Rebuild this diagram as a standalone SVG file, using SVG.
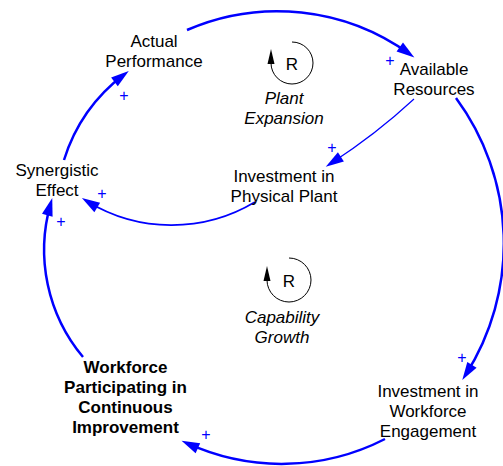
<svg xmlns="http://www.w3.org/2000/svg" width="503" height="466" viewBox="0 0 503 466">
  <style>
    .node { font-family: "Liberation Sans", Arial, sans-serif; font-size: 17px; fill: #000; text-anchor: middle; }
    .bold { font-weight: bold; }
    .loop { font-family: "Liberation Sans", Arial, sans-serif; font-size: 17px; font-style: italic; fill: #000; text-anchor: middle; }
    .sym { font-family: "Liberation Sans", Arial, sans-serif; font-size: 17px; fill: #000; text-anchor: middle; }
    .pol { font-family: "Liberation Sans", Arial, sans-serif; font-size: 16px; fill: #0000ff; text-anchor: middle; }
    .link { fill: none; stroke: #0000ff; stroke-width: 2.5; marker-end: url(#head); }
    .thin { stroke-width: 1.2; }
    .mid { stroke-width: 1.6; }
    .loopArc { fill: none; stroke: #000; stroke-width: 1; marker-end: url(#loopHead); }
  </style>
  <defs>
    <marker id="head" markerUnits="userSpaceOnUse" markerWidth="30" markerHeight="30" refX="0" refY="0" viewBox="-15 -15 30 30" orient="auto" overflow="visible">
      <path d="M6,0 L-12,-5.5 L-12,5.5 Z" fill="#0000ff"/>
    </marker>
    <marker id="loopHead" markerUnits="userSpaceOnUse" markerWidth="20" markerHeight="20" refX="0" refY="0" viewBox="-10 -10 20 20" orient="auto" overflow="visible">
      <path d="M14,0 L-1,-3.5 L-1,3.5 Z" fill="#000"/>
    </marker>
  </defs>

  <!-- causal links -->
  <g id="links">
    <path class="link" d="M187,30 A226,226 0 0 1 409.5,54"/>
    <path class="link" d="M456,98 A245,245 0 0 1 465.5,375"/>
    <path class="link" d="M385,439 A227,227 0 0 1 187,443.2"/>
    <path class="link" d="M83,357 A167,167 0 0 1 50.6,203.8"/>
    <path class="link" d="M64,160 A172,172 0 0 1 124,74.6"/>
    <path class="link thin" d="M414,99 A600,600 0 0 1 330.8,163.4"/>
    <path class="link mid" d="M255,202 A162,162 0 0 1 87,201.2"/>
  </g>

  <!-- link polarities -->
  <g id="polarities">
    <text class="pol" x="390" y="66">+</text>
    <text class="pol" x="124" y="101">+</text>
    <text class="pol" x="61" y="227">+</text>
    <text class="pol" x="102" y="199">+</text>
    <text class="pol" x="332" y="153">+</text>
    <text class="pol" x="462" y="363">+</text>
    <text class="pol" x="206" y="440">+</text>
  </g>

  <!-- variables -->
  <g id="actual-performance">
    <text class="node" x="154" y="47">Actual</text>
    <text class="node" x="154" y="67">Performance</text>
  </g>
  <g id="available-resources">
    <text class="node" x="434" y="75">Available</text>
    <text class="node" x="434" y="95">Resources</text>
  </g>
  <g id="investment-physical-plant">
    <text class="node" x="284" y="182">Investment in</text>
    <text class="node" x="284" y="202">Physical Plant</text>
  </g>
  <g id="synergistic-effect">
    <text class="node" x="57" y="176">Synergistic</text>
    <text class="node" x="57" y="196">Effect</text>
  </g>
  <g id="investment-workforce-engagement">
    <text class="node" x="428" y="397">Investment in</text>
    <text class="node" x="428" y="417">Workforce</text>
    <text class="node" x="428" y="437">Engagement</text>
  </g>
  <g id="workforce-participating">
    <text class="node bold" x="125.5" y="373">Workforce</text>
    <text class="node bold" x="125.5" y="393">Participating in</text>
    <text class="node bold" x="125.5" y="413">Continuous</text>
    <text class="node bold" x="125.5" y="433">Improvement</text>
  </g>

  <!-- loop identifiers -->
  <g id="loop-plant-expansion">
    <path class="loopArc" d="M292,42 A21,21 0 1 1 271,63"/>
    <text class="sym" x="292" y="70">R</text>
    <text class="loop" x="284" y="104">Plant</text>
    <text class="loop" x="284" y="124">Expansion</text>
  </g>
  <g id="loop-capability-growth">
    <path class="loopArc" d="M289,258 A22,22 0 1 1 267,280"/>
    <text class="sym" x="289" y="287">R</text>
    <text class="loop" x="282" y="323">Capability</text>
    <text class="loop" x="282" y="343">Growth</text>
  </g>
</svg>
